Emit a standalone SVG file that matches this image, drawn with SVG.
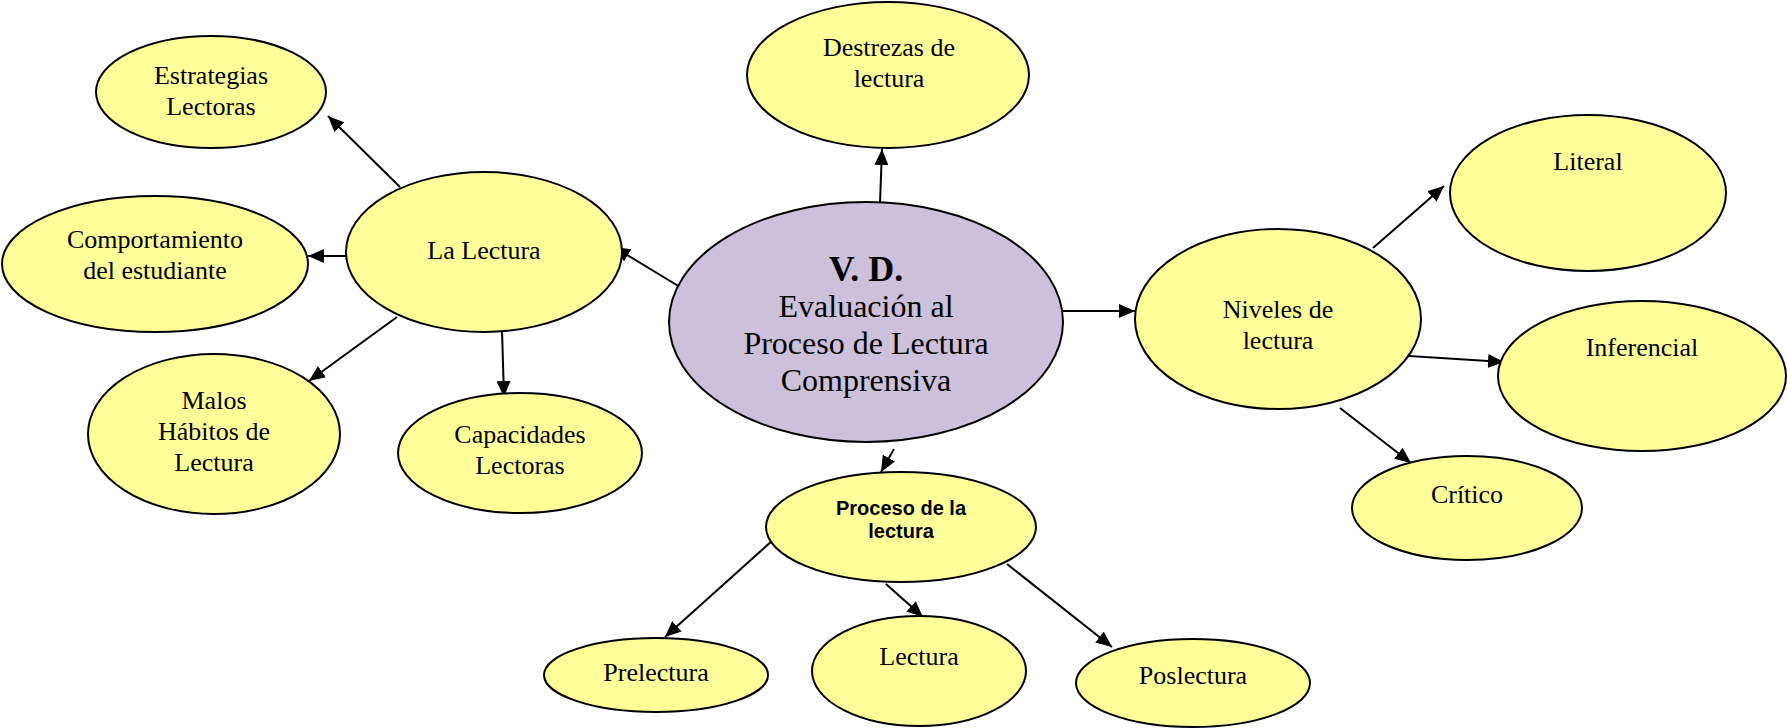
<svg xmlns="http://www.w3.org/2000/svg" width="1787" height="728" viewBox="0 0 1787 728">
<defs>
<style>
.n{fill:#FFFF99;stroke:#000;stroke-width:2}
.c{fill:#CCC0DA;stroke:#000;stroke-width:2}
.t{font-family:"Liberation Serif","Times New Roman",serif;font-size:26px;fill:#000;text-anchor:middle}
.m{font-family:"Liberation Serif","Times New Roman",serif;font-size:32px;fill:#000;text-anchor:middle}
.b{font-family:"Liberation Serif","Times New Roman",serif;font-size:36px;font-weight:bold;fill:#000;text-anchor:middle}
.s{font-family:"Liberation Sans",Arial,sans-serif;font-size:20px;font-weight:bold;fill:#000;text-anchor:middle}
.e{stroke:#000;stroke-width:2;fill:none;marker-end:url(#ah)}
</style>
<marker id="ah" markerWidth="16" markerHeight="14" refX="16" refY="7" orient="auto" markerUnits="userSpaceOnUse">
<path d="M0,0 L16,7 L0,14 z" fill="#000"/>
</marker>
</defs>
<rect width="1787" height="728" fill="#fff"/>
<g id="connectors">
<line class="e" x1="400" y1="187" x2="328" y2="116"/>
<line class="e" x1="346" y1="256" x2="308" y2="256"/>
<line class="e" x1="397" y1="317" x2="309" y2="381"/>
<line class="e" x1="502" y1="330" x2="504" y2="397"/>
<line class="e" x1="680" y1="287" x2="614" y2="247"/>
<line class="e" x1="880" y1="203" x2="882" y2="149"/>
<line class="e" x1="1063" y1="311" x2="1135" y2="311"/>
<line class="e" x1="1373" y1="248" x2="1444" y2="186"/>
<line class="e" x1="1409" y1="356" x2="1504" y2="362"/>
<line class="e" x1="1340" y1="408" x2="1411" y2="463"/>
<line class="e" x1="894" y1="449" x2="881" y2="472"/>
<line class="e" x1="773" y1="540" x2="665" y2="637"/>
<line class="e" x1="886" y1="584" x2="923" y2="617"/>
<line class="e" x1="1007" y1="564" x2="1112" y2="647"/>
</g>
<g id="vd">
<ellipse class="c" cx="866" cy="322" rx="197" ry="120"/>
<text class="b" x="866" y="281">V. D.</text>
<text class="m" x="866" y="317">Evaluación al</text>
<text class="m" x="866" y="354">Proceso de Lectura</text>
<text class="m" x="866" y="391">Comprensiva</text>
</g>
<g id="estrategias">
<ellipse class="n" cx="211" cy="92" rx="115" ry="56"/>
<text class="t" x="211" y="84">Estrategias</text>
<text class="t" x="211" y="115">Lectoras</text>
</g>
<g id="comportamiento">
<ellipse class="n" cx="155" cy="264" rx="153" ry="68"/>
<text class="t" x="155" y="248">Comportamiento</text>
<text class="t" x="155" y="279">del estudiante</text>
</g>
<g id="lalectura">
<ellipse class="n" cx="484" cy="252" rx="138" ry="80"/>
<text class="t" x="484" y="259">La Lectura</text>
</g>
<g id="malos">
<ellipse class="n" cx="214" cy="434" rx="126" ry="80"/>
<text class="t" x="214" y="409">Malos</text>
<text class="t" x="214" y="440">Hábitos de</text>
<text class="t" x="214" y="471">Lectura</text>
</g>
<g id="capacidades">
<ellipse class="n" cx="520" cy="453" rx="122" ry="60"/>
<text class="t" x="520" y="443">Capacidades</text>
<text class="t" x="520" y="474">Lectoras</text>
</g>
<g id="destrezas">
<ellipse class="n" cx="888" cy="75" rx="141" ry="73"/>
<text class="t" x="889" y="56">Destrezas de</text>
<text class="t" x="889" y="87">lectura</text>
</g>
<g id="niveles">
<ellipse class="n" cx="1278" cy="319" rx="143" ry="90"/>
<text class="t" x="1278" y="318">Niveles de</text>
<text class="t" x="1278" y="349">lectura</text>
</g>
<g id="literal">
<ellipse class="n" cx="1588" cy="193" rx="138" ry="78"/>
<text class="t" x="1588" y="170">Literal</text>
</g>
<g id="inferencial">
<ellipse class="n" cx="1642" cy="376" rx="144" ry="75"/>
<text class="t" x="1642" y="356">Inferencial</text>
</g>
<g id="critico">
<ellipse class="n" cx="1467" cy="508" rx="115" ry="52"/>
<text class="t" x="1467" y="503">Crítico</text>
</g>
<g id="proceso">
<ellipse class="n" cx="901" cy="527" rx="135" ry="55"/>
<text class="s" x="901" y="515">Proceso de la</text>
<text class="s" x="901" y="538">lectura</text>
</g>
<g id="prelectura">
<ellipse class="n" cx="656" cy="675" rx="112" ry="37"/>
<text class="t" x="656" y="681">Prelectura</text>
</g>
<g id="lectura">
<ellipse class="n" cx="919" cy="671" rx="107" ry="55"/>
<text class="t" x="919" y="665">Lectura</text>
</g>
<g id="poslectura">
<ellipse class="n" cx="1193" cy="683" rx="117" ry="44"/>
<text class="t" x="1193" y="684">Poslectura</text>
</g>
</svg>
